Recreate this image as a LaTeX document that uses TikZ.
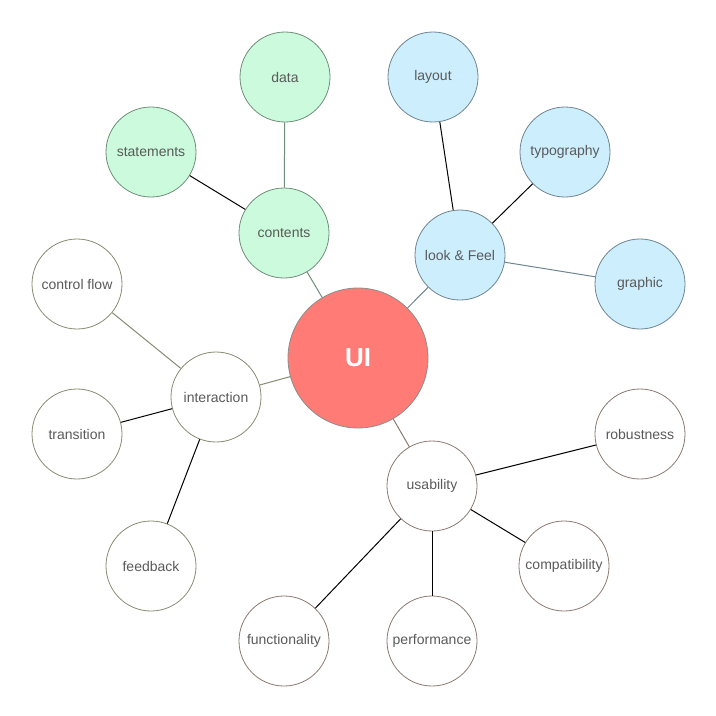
\documentclass[tikz,border=0pt]{standalone}
\usepackage{fontspec}
\setmainfont{Liberation Sans}
\usepackage{xcolor}
\usepackage{tikz}
\usetikzlibrary{positioning}
\definecolor{verdeF}{HTML}{CCFADC}
\definecolor{verdeB}{HTML}{6F8E7A}
\definecolor{azulF}{HTML}{CDEEFD}
\definecolor{azulB}{HTML}{6F8591}
\definecolor{rojoF}{HTML}{FF7B75}
\definecolor{olivo}{HTML}{8A8A72}
\definecolor{cafe}{HTML}{8C7A72}
\definecolor{texto}{HTML}{5A5A5A}
\tikzset{
  hoja/.style={circle,minimum size=90pt,inner sep=0pt,thick,text=texto,font=\fontsize{14}{16}\selectfont},
  verde/.style={hoja,fill=verdeF,draw=verdeB},
  azul/.style={hoja,fill=azulF,draw=azulB},
  olv/.style={hoja,fill=white,draw=olivo},
  caf/.style={hoja,fill=white,draw=cafe},
  centro/.style={circle,minimum size=140pt,inner sep=0pt,thick,fill=rojoF,draw=gray!90,text=white,font=\fontsize{26}{30}\selectfont\bfseries},
  liga/.style={line width=1pt}
}
\begin{document}
\begin{tikzpicture}[x=1pt,y=-1pt]
\useasboundingbox (0,0) rectangle (716,716);
\node[centro] (ui) at (358,358) {UI};
% contenidos
\node[verde] (contents) at (284,233) {contents};
\node[verde] (data) at (285,77) {data};
\node[verde] (statements) at (151,152) {statements};
% apariencia
\node[azul] (look) at (460,255) {look \& Feel};
\node[azul] (layout) at (433,77) {layout};
\node[azul] (typography) at (565,152) {typography};
\node[azul] (graphic) at (640,284) {graphic};
% interaccion
\node[olv] (interaction) at (216,397) {interaction};
\node[olv] (control) at (77,284) {control flow};
\node[olv] (transition) at (77,434) {transition};
\node[olv] (feedback) at (151,566) {feedback};
% usabilidad
\node[caf] (usability) at (432,486) {usability};
\node[caf] (robustness) at (640,434) {robustness};
\node[caf] (compat) at (564,566) {compatibility};
\node[caf] (perf) at (432,641) {performance};
\node[caf] (func) at (284,641) {functionality};

\draw[liga,verdeB] (ui) -- (contents);
\draw[liga,azulB] (ui) -- (look);
\draw[liga,olivo] (ui) -- (interaction);
\draw[liga,cafe] (ui) -- (usability);
\draw[liga,verdeB] (contents) -- (data);
\draw[liga,black] (contents) -- (statements);
\draw[liga,black] (look) -- (layout);
\draw[liga,black] (look) -- (typography);
\draw[liga,azulB] (look) -- (graphic);
\draw[liga,olivo] (interaction) -- (control);
\draw[liga,black] (interaction) -- (transition);
\draw[liga,black] (interaction) -- (feedback);
\foreach \h in {robustness,compat,perf,func}
  \draw[liga,black] (usability) -- (\h);
\end{tikzpicture}
\end{document}
